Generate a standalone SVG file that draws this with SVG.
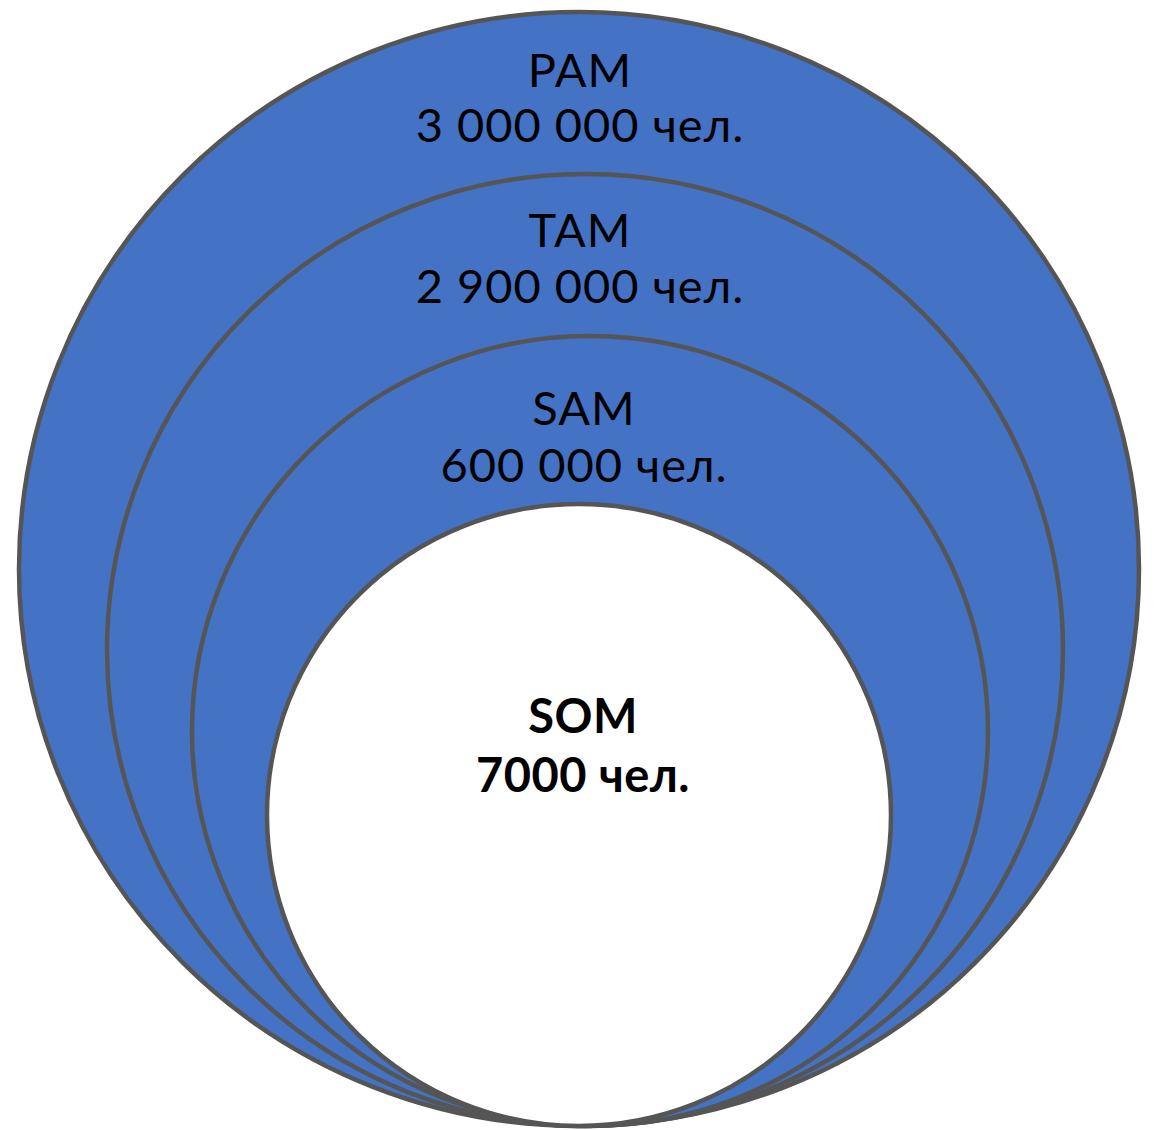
<svg xmlns="http://www.w3.org/2000/svg" width="1156" height="1130" viewBox="0 0 1156 1130">
<style>
.c{fill:#4472C4;stroke:#555555;stroke-width:4.5}
.w{fill:#FFFFFF;stroke:#555555;stroke-width:4.5}
.t{font-family:Lato,"Noto Sans","Liberation Sans",sans-serif;font-size:47px;letter-spacing:1px;fill:#000;text-anchor:middle}
.b{font-weight:bold;letter-spacing:0.5px}
</style>
<rect width="1156" height="1130" fill="#FFFFFF"/>
<g id="pam">
<ellipse class="c" cx="579" cy="569" rx="560" ry="557"/>
<text class="t" x="580" y="87">PAM</text>
<text class="t" x="580" y="142">3 000 000 чел.</text>
</g>
<g id="tam">
<ellipse class="c" cx="585" cy="650" rx="478" ry="476"/>
<text class="t" x="580" y="247">TAM</text>
<text class="t" x="580" y="303">2 900 000 чел.</text>
</g>
<g id="sam">
<ellipse class="c" cx="590" cy="731" rx="398" ry="395"/>
<text class="t" x="584" y="425">SAM</text>
<text class="t" x="584" y="482">600 000 чел.</text>
</g>
<g id="som">
<ellipse class="w" cx="579" cy="815" rx="312" ry="311"/>
<text class="t b" x="583" y="733">SOM</text>
<text class="t b" x="583" y="792">7000 чел.</text>
</g>
<g id="connectors"/>
</svg>
